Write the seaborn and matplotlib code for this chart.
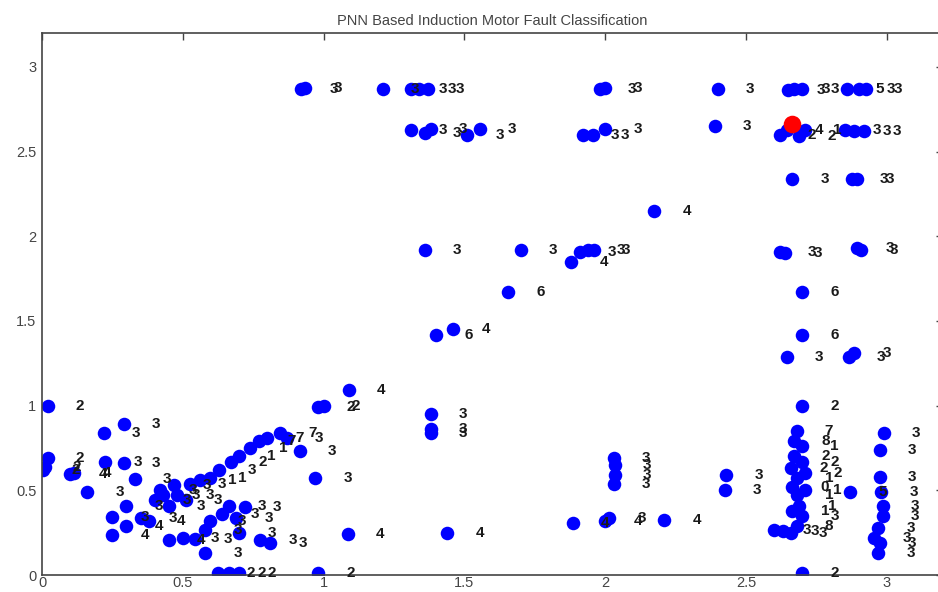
import pandas as pd
import seaborn as sns
import matplotlib.pyplot as plt

# feature coordinates of each classified sample and the class number printed next to it
x_vals = [
    0.92, 0.935, 1.21, 1.31, 1.34, 1.37, 1.98, 2.00, 2.40, 2.65, 2.67, 2.70, 2.86, 2.90, 2.925,
    1.31, 1.36, 1.38, 1.51, 1.555, 1.92, 1.955, 2.00, 2.39, 2.62, 2.645, 2.69, 2.71, 2.85, 2.885, 2.92,
    2.665, 2.875, 2.895, 2.175,
    1.36, 1.70, 1.88, 1.91, 1.94, 1.96, 2.62, 2.64, 2.895, 2.91,
    1.655, 2.70, 1.40, 1.46, 2.70, 2.645, 2.865, 2.885,
    1.09, 0.98, 1.00, 1.38, 1.38, 1.38, 0.97, 1.085, 1.44, 0.98,
    0.02, 0.22, 0.29, 0.02, 0.01, 0.005, 0.115, 0.10, 0.225, 0.29, 0.16, 0.33, 0.30, 0.25, 0.30,
    0.25, 0.35,
    0.42, 0.47, 0.45, 0.51, 0.525, 0.56, 0.595, 0.63, 0.67, 0.70, 0.74, 0.77, 0.80, 0.845, 0.87,
    0.915, 0.40, 0.43, 0.48, 0.50, 0.545, 0.595, 0.64, 0.58, 0.69, 0.70, 0.665, 0.72, 0.58, 0.625,
    0.665, 0.70, 0.775, 0.81, 0.45, 0.38,
    1.885, 2.00, 2.015, 2.21, 2.03, 2.035, 2.035, 2.03, 2.43, 2.425,
    2.70, 2.70, 2.60, 2.63, 2.66, 2.68, 2.67, 2.70, 2.67, 2.70, 2.66, 2.71, 2.68, 2.665, 2.71,
    2.68, 2.69, 2.665, 2.70, 2.68, 2.87,
    2.99, 2.975, 2.975, 2.98, 2.985, 2.985, 2.97, 2.955, 2.975, 2.97,
]
y_vals = [
    2.87, 2.875, 2.87, 2.87, 2.87, 2.87, 2.87, 2.875, 2.87, 2.865, 2.87, 2.87, 2.87, 2.87, 2.87,
    2.63, 2.61, 2.635, 2.60, 2.635, 2.60, 2.60, 2.635, 2.65, 2.60, 2.63, 2.59, 2.63, 2.63, 2.62, 2.62,
    2.34, 2.34, 2.34, 2.15,
    1.92, 1.92, 1.85, 1.91, 1.92, 1.92, 1.91, 1.90, 1.93, 1.92,
    1.67, 1.67, 1.42, 1.45, 1.42, 1.29, 1.29, 1.31,
    1.09, 0.99, 1.00, 0.95, 0.86, 0.84, 0.57, 0.24, 0.25, 0.01,
    1.00, 0.84, 0.89, 0.69, 0.64, 0.62, 0.60, 0.595, 0.665, 0.66, 0.49, 0.565, 0.41, 0.34, 0.29,
    0.235, 0.335,
    0.50, 0.53, 0.41, 0.44, 0.54, 0.56, 0.57, 0.62, 0.665, 0.705, 0.75, 0.79, 0.81, 0.84, 0.81,
    0.735, 0.44, 0.47, 0.47, 0.22, 0.21, 0.32, 0.36, 0.265, 0.335, 0.25, 0.41, 0.40, 0.13, 0.01,
    0.01, 0.01, 0.205, 0.19, 0.205, 0.32,
    0.305, 0.32, 0.335, 0.325, 0.69, 0.65, 0.59, 0.54, 0.59, 0.50,
    1.00, 0.01, 0.265, 0.26, 0.25, 0.85, 0.79, 0.76, 0.70, 0.67, 0.63, 0.60, 0.57, 0.52, 0.50,
    0.47, 0.41, 0.38, 0.35, 0.29, 0.49,
    0.84, 0.74, 0.58, 0.49, 0.41, 0.35, 0.28, 0.22, 0.19, 0.13,
]
class_labels = [
    '3', '3', '3', '3', '3', '3', '3', '3', '3', '3', '3', '3', '5', '3', '3',
    '3', '3', '3', '3', '3', '3', '3', '3', '3', '2', '4', '2', '1', '3', '3', '3',
    '3', '3', '3', '4',
    '3', '3', '4', '3', '3', '3', '3', '3', '3', '3',
    '6', '6', '6', '4', '6', '3', '3', '3',
    '4', '2', '2', '3', '3', '3', '3', '4', '4', '2',
    '2', '3', '3', '2', '2', '2', '4', '4', '3', '3', '3', '3', '3', '3', '4',
    '4', '3',
    '3', '3', '3', '3', '3', '1', '1', '3', '2', '1', '1', '7', '7', '7', '3',
    '3', '3', '3', '3', '3', '3', '3', '3', '3', '3', '3', '3', '3', '3', '2',
    '2', '2', '3', '3', '4', '4',
    '4', '4', '3', '4', '3', '3', '3', '3', '3', '3',
    '2', '2', '3', '3', '3', '7', '8', '1', '2', '2', '2', '2', '1', '0', '1',
    '1', '1', '1', '3', '8', '5',
    '3', '3', '3', '3', '3', '3', '3', '3', '3', '3',
]

# the sample being tested (red)
test_x = [2.665]
test_y = [2.66]

df = pd.DataFrame({'x': x_vals, 'y': y_vals, 'cls': class_labels})
df_test = pd.DataFrame({'x': test_x, 'y': test_y})

sns.set_style('white')
plt.rcParams['font.family'] = ['Liberation Sans', 'DejaVu Sans']

fig = plt.figure(figsize=(9.38, 5.92), dpi=100)
ax = fig.add_axes([0.0448, 0.0287, 0.9606, 0.9155])

sns.scatterplot(data=df, x='x', y='y', color=(0, 0, 1), s=95, linewidth=0, ax=ax)
sns.scatterplot(data=df_test, x='x', y='y', color=(1, 0, 0), s=160, linewidth=0, ax=ax, zorder=3)

# class numbers written just to the right of each sample
for _, row in df.iterrows():
    ax.text(row['x'] + 0.1, row['y'], row['cls'], fontsize=11, fontweight='bold',
            color='#1a1a1a', ha='left', va='center')

ax.set_xlim(0, 3.2)
ax.set_ylim(0, 3.2)
ax.set_xticks([0, 0.5, 1, 1.5, 2, 2.5, 3])
ax.set_xticklabels(['0', '0.5', '1', '1.5', '2', '2.5', '3'])
ax.set_yticks([0, 0.5, 1, 1.5, 2, 2.5, 3])
ax.set_yticklabels(['0', '0.5', '1', '1.5', '2', '2.5', '3'])
ax.set_xlabel('')
ax.set_ylabel('')
ax.tick_params(direction='in', length=5, width=1, color='#444444', labelcolor='#444444',
               labelsize=10.5, top=True, right=True, pad=4)
ax.tick_params(axis='x', pad=1)
for sp in ax.spines.values():
    sp.set_color('#444444')
    sp.set_linewidth(1.2)

ax.set_title('PNN Based Induction Motor Fault Classification', fontsize=10.5,
             color='#444444', pad=6)

fig.savefig('out.png', dpi=100)
